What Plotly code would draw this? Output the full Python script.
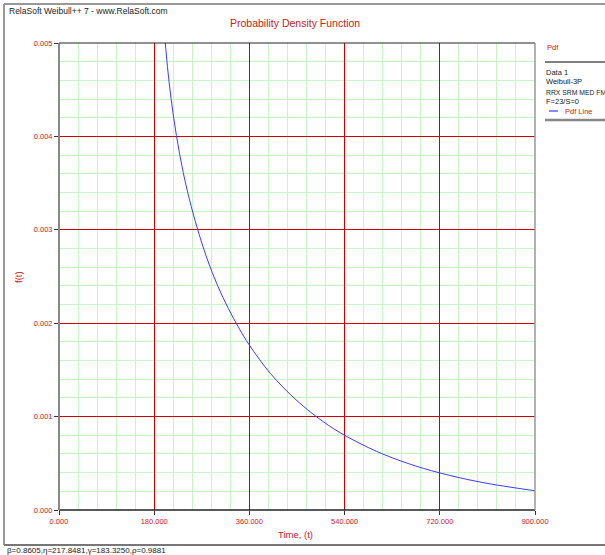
import plotly.graph_objects as go

# Data (Time t, pdf f(t))
time_t = [195, 199, 205, 212, 222, 235, 250, 265, 280, 300, 320, 340, 360,
          400, 450, 500, 540, 600, 660, 720, 800, 900]
pdf_vals = [0.00548, 0.00514, 0.00475, 0.00440, 0.00401, 0.00361, 0.00325,
            0.00295, 0.00269, 0.00240, 0.00216, 0.00195, 0.001765, 0.00146,
            0.00117, 0.000944, 0.00080, 0.000629, 0.000498, 0.000397,
            0.000295, 0.000206]

x_ticks = [0, 180, 360, 540, 720, 900]
y_ticks = [0.0, 0.001, 0.002, 0.003, 0.004, 0.005]

title_text = "Probability Density Function"
x_title = "Time, (t)"
y_title = "f(t)"
header_text = "RelaSoft Weibull++ 7 - www.RelaSoft.com"
status_text = "β=0.8605,η=217.8481,γ=183.3250,ρ=0.9881"
legend_head = "Pdf"
legend_lines = ["Data 1", "Weibull-3P", "RRX SRM MED FM", "F=23/S=0"]
legend_item = "Pdf Line"

W, H = 605, 555
L, R, T, B = 59, 535, 43, 510
PW, PH = R - L, B - T


def px(x):
    return (x - L) / PW


def py(y):
    return (B - y) / PH


# minor grid positions (5 subdivisions between major ticks, excluding majors)
x_minor = [x_ticks[i] + (x_ticks[i + 1] - x_ticks[i]) * k / 5
           for i in range(len(x_ticks) - 1) for k in range(1, 5)]
y_minor = [y_ticks[i] + (y_ticks[i + 1] - y_ticks[i]) * k / 5
           for i in range(len(y_ticks) - 1) for k in range(1, 5)]

RED = "#cc2020"
FONT = "Liberation Sans"

fig = go.Figure()
fig.add_trace(go.Scatter(x=time_t, y=pdf_vals, mode="lines",
                         line=dict(color="#3c3cff", width=1, shape="spline"),
                         showlegend=False, hoverinfo="x+y"))

fig.update_layout(
    width=W, height=H,
    margin=dict(l=L, r=W - R, t=T, b=H - B),
    paper_bgcolor="white", plot_bgcolor="white",
    showlegend=False,
    font=dict(family=FONT, size=8, color=RED),
    xaxis=dict(range=[0, 900], tickvals=x_ticks, tickformat=".3f",
               showgrid=True, gridcolor="#cc0000", gridwidth=1,
               minor=dict(tickvals=x_minor, showgrid=True, gridcolor="#c8f5c8",
                          gridwidth=1, ticks=""),
               zeroline=False, showline=False,
               ticks="outside", ticklen=4, tickcolor="#333333",
               tickfont=dict(family=FONT, size=7.5, color=RED)),
    yaxis=dict(range=[0, 0.005], tickvals=y_ticks, tickformat=".3f",
               showgrid=True, gridcolor="#cc0000", gridwidth=1,
               minor=dict(tickvals=y_minor, showgrid=True, gridcolor="#c8f5c8",
                          gridwidth=1, ticks=""),
               zeroline=False, showline=False,
               ticks="outside", ticklen=4, tickcolor="#333333",
               tickfont=dict(family=FONT, size=7.5, color=RED)),
)

shapes = []
# plot frame
shapes.append(dict(type="line", xref="paper", yref="paper", x0=0, x1=1, y0=1, y1=1,
                   line=dict(color="#222222", width=1)))
shapes.append(dict(type="line", xref="paper", yref="paper", x0=0, x1=1, y0=0, y1=0,
                   line=dict(color="#222222", width=1.5)))
shapes.append(dict(type="line", xref="paper", yref="paper", x0=0, x1=0, y0=0, y1=1,
                   line=dict(color="#888888", width=2)))
shapes.append(dict(type="line", xref="paper", yref="paper", x0=1, x1=1, y0=0, y1=1,
                   line=dict(color="#999999", width=1.5)))
# outer frame
shapes.append(dict(type="line", xref="paper", yref="paper", x0=px(4), x1=px(W), y0=py(4), y1=py(4),
                   line=dict(color="#999999", width=2)))
shapes.append(dict(type="line", xref="paper", yref="paper", x0=px(4), x1=px(4), y0=py(4), y1=py(545),
                   line=dict(color="#999999", width=2)))
shapes.append(dict(type="line", xref="paper", yref="paper", x0=px(4), x1=px(W), y0=py(545), y1=py(545),
                   line=dict(color="#777777", width=2)))
# legend lines
shapes.append(dict(type="line", xref="paper", yref="paper", x0=px(545), x1=px(W), y0=py(62), y1=py(62),
                   line=dict(color="#555555", width=1.5)))
shapes.append(dict(type="line", xref="paper", yref="paper", x0=px(545), x1=px(W), y0=py(120), y1=py(120),
                   line=dict(color="#888888", width=2.5)))
shapes.append(dict(type="line", xref="paper", yref="paper", x0=px(549), x1=px(558), y0=py(111), y1=py(111),
                   line=dict(color="#6060ff", width=1.5)))
fig.update_layout(shapes=shapes)

ann = []


def text(s, x, y, size=8, color=RED, xanchor="left", yanchor="middle", textangle=0):
    ann.append(dict(text=s, x=px(x), y=py(y), xref="paper", yref="paper",
                    showarrow=False, xanchor=xanchor, yanchor=yanchor,
                    textangle=textangle,
                    font=dict(family=FONT, size=size, color=color)))


text(header_text, 7, 11, size=8.5, color="#222222")
text(title_text, 295, 23, size=10.5, color=RED, xanchor="center")
text(x_title, 295, 534, size=9.5, color=RED, xanchor="center")
text(y_title, 18, 277, size=9.5, color=RED, xanchor="center", textangle=-90)
text(legend_head, 545, 48, size=7.5, color=RED)
for i, s in enumerate(legend_lines):
    text(s, 544, 72 + i * 10, size=7.5 if len(s) < 12 else 6.8, color="#222222")
text(legend_item, 563, 111, size=7.5, color=RED)
text(status_text, 5, 550, size=8, color="#222222")
fig.update_layout(annotations=ann)

fig.write_html("out.html", config={"displayModeBar": False},
               post_script="document.body.style.margin='0';document.body.style.overflow='hidden';")
